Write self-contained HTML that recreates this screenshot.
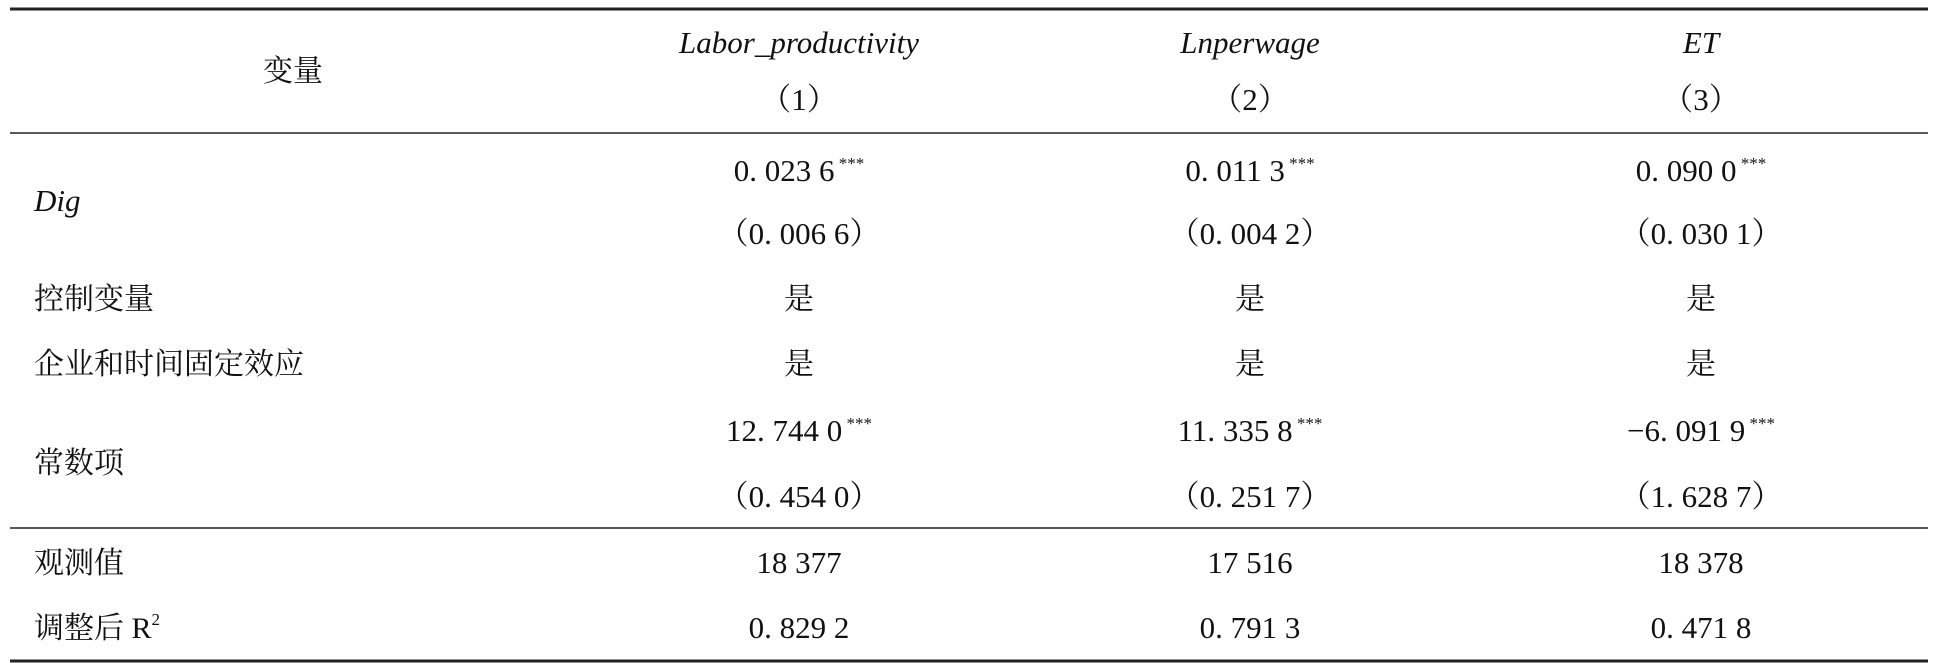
<!DOCTYPE html>
<html><head><meta charset="utf-8"><style>
html,body{margin:0;padding:0;background:#fff;}
svg{display:block;}
text{font-family:"Liberation Serif","Noto Serif CJK SC",serif;fill:#111;font-size:31px;}
.cn{font-family:"Liberation Serif","Noto Serif CJK SC",serif;font-size:30px;}
.it{font-style:italic;}
.st{font-size:17px;}
</style></head><body>
<svg width="1936" height="672" viewBox="0 0 1936 672">
<line x1="10" y1="9" x2="1928" y2="9" stroke="#222" stroke-width="3"/>
<line x1="10" y1="133" x2="1928" y2="133" stroke="#222" stroke-width="1.5"/>
<line x1="10" y1="528" x2="1928" y2="528" stroke="#222" stroke-width="1.5"/>
<line x1="10" y1="661" x2="1928" y2="661" stroke="#222" stroke-width="3"/>
<g text-anchor="middle">
<text class="cn" x="293" y="81">变量</text>
<text class="it" x="799" y="53">Labor_productivity</text>
<text class="it" x="1250" y="53">Lnperwage</text>
<text class="it" x="1701" y="53">ET</text>
<text x="799" y="110">（1）</text>
<text x="1250" y="110">（2）</text>
<text x="1701" y="110">（3）</text>

<text x="799" y="181">0. 023 6<tspan class="st" dy="-12"> ***</tspan></text>
<text x="1250" y="181">0. 011 3<tspan class="st" dy="-12"> ***</tspan></text>
<text x="1701" y="181">0. 090 0<tspan class="st" dy="-12"> ***</tspan></text>
<text x="799" y="244">（0. 006 6）</text>
<text x="1250" y="244">（0. 004 2）</text>
<text x="1701" y="244">（0. 030 1）</text>

<text class="cn" x="799" y="309">是</text>
<text class="cn" x="1250" y="309">是</text>
<text class="cn" x="1701" y="309">是</text>
<text class="cn" x="799" y="374">是</text>
<text class="cn" x="1250" y="374">是</text>
<text class="cn" x="1701" y="374">是</text>

<text x="799" y="441">12. 744 0<tspan class="st" dy="-12"> ***</tspan></text>
<text x="1250" y="441">11. 335 8<tspan class="st" dy="-12"> ***</tspan></text>
<text x="1701" y="441">−6. 091 9<tspan class="st" dy="-12"> ***</tspan></text>
<text x="799" y="507">（0. 454 0）</text>
<text x="1250" y="507">（0. 251 7）</text>
<text x="1701" y="507">（1. 628 7）</text>

<text x="799" y="573">18 377</text>
<text x="1250" y="573">17 516</text>
<text x="1701" y="573">18 378</text>
<text x="799" y="638">0. 829 2</text>
<text x="1250" y="638">0. 791 3</text>
<text x="1701" y="638">0. 471 8</text>
</g>
<g text-anchor="start">
<text class="it" x="34" y="211">Dig</text>
<text class="cn" x="34" y="309">控制变量</text>
<text class="cn" x="34" y="374">企业和时间固定效应</text>
<text class="cn" x="34" y="473">常数项</text>
<text class="cn" x="34" y="573">观测值</text>
<text class="cn" x="34" y="638">调整后 R<tspan class="st" dy="-13">2</tspan></text>
</g>
</svg>
</body></html>
